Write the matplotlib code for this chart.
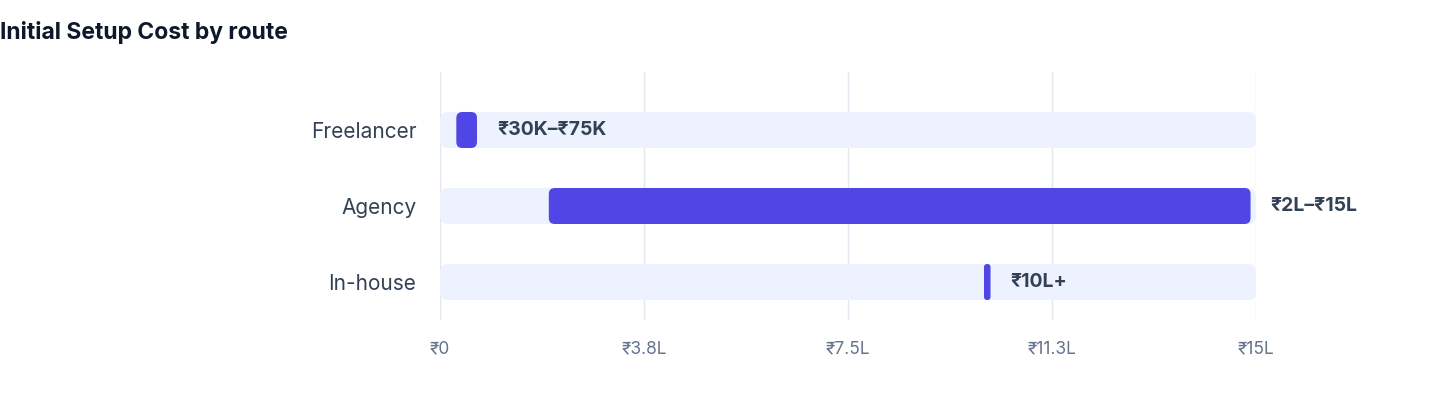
import matplotlib
matplotlib.use("Agg")
import matplotlib.pyplot as plt
from matplotlib.patches import FancyBboxPatch

categories = ["Freelancer", "Agency", "In-house"]
starts = [0.3, 2.0, 10.0]      # lakhs
ends = [0.68, 14.9, 10.12]
labels = ["₹30K–₹75K", "₹2L–₹15L", "₹10L+"]
xmax = 15
ticks = [0, 3.75, 7.5, 11.25, 15]
tick_labels = ["₹0", "₹3.8L", "₹7.5L", "₹11.3L", "₹15L"]

fam = ["Inter", "DejaVu Sans"]
plt.rcParams["font.family"] = fam

fig = plt.figure(figsize=(14.4, 4.08), dpi=100)
ax = fig.add_axes([440/1440, 1-320/408, 816/1440, 248/408])
ax.set_xlim(0, xmax)
ax.set_ylim(2.5, -0.763)
px_x = 816/15
px_y = 248/3.263
aspect = px_x/px_y
h = 36/px_y

for t in ticks:
    ax.axvline(t, color="#E2E8F0", lw=1, zorder=0)

for i, (s, e, lab) in enumerate(zip(starts, ends, labels)):
    bg = FancyBboxPatch((0, i-h/2), xmax, h,
                        boxstyle=f"round,pad=0,rounding_size={8/px_x}",
                        mutation_aspect=aspect, fc="#EEF2FF", ec="none", zorder=1)
    ax.add_patch(bg)
    w = e - s
    r = min(6/px_x, w/2)
    b = FancyBboxPatch((s, i-h/2), w, h,
                       boxstyle=f"round,pad=0,rounding_size={r}",
                       mutation_aspect=aspect, fc="#4F46E5", ec="none", zorder=2)
    ax.add_patch(b)
    ax.text(e + 20/px_x, i, lab, va="center", ha="left", fontsize=14,
            fontweight="bold", color="#334155", clip_on=False)

ax.set_yticks(range(len(categories)))
ax.set_yticklabels(categories, fontsize=15, color="#334155")
ax.set_xticks(ticks)
ax.set_xticklabels(tick_labels, fontsize=12.5, color="#64748B")
ax.tick_params(length=0, pad=15, axis="x")
ax.tick_params(length=0, pad=17, axis="y")
for sp in ax.spines.values():
    sp.set_visible(False)

fig.text(0, 1-32/408, "Initial Setup Cost by route", fontsize=16.5, fontweight="bold",
         color="#0F172A", va="center", ha="left")
fig.savefig("out.png", dpi=100)
